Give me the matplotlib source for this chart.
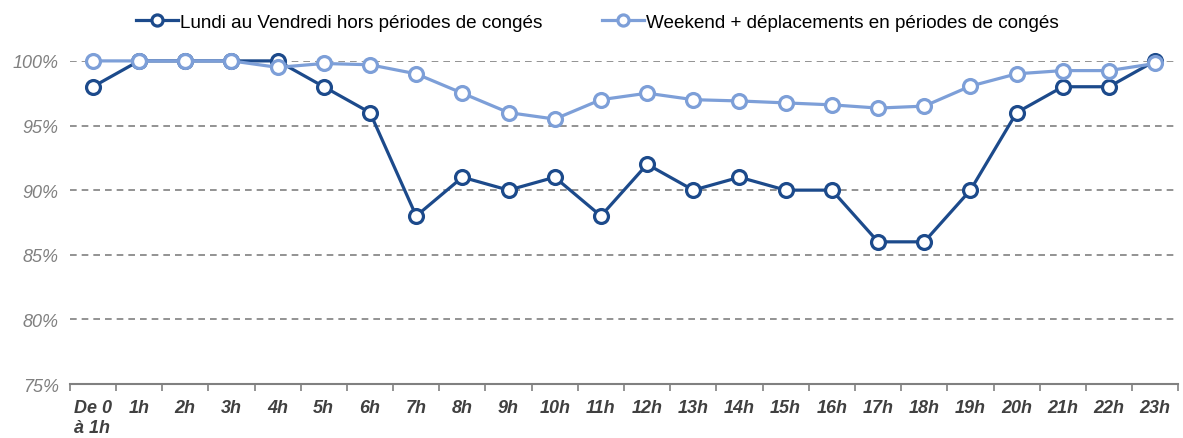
import matplotlib
matplotlib.use("Agg")
import matplotlib.pyplot as plt
from matplotlib.ticker import FixedLocator

plt.rcParams['font.family'] = ['Liberation Sans', 'DejaVu Sans']

hours = ["De 0\nà 1h"] + ["{}h".format(h) for h in range(1, 24)]
semaine = [98, 100, 100, 100, 100, 98, 96, 88, 91, 90, 91, 88, 92, 90,
           91, 90, 90, 86, 86, 90, 96, 98, 98, 100]
weekend = [100, 100, 100, 100, 99.5, 99.8, 99.7, 99.0, 97.5, 96.0, 95.5, 97.0,
           97.5, 97.0, 96.9, 96.75, 96.6, 96.35, 96.5, 98.05, 99.0, 99.25, 99.25, 99.8]
yticks = [75, 80, 85, 90, 95, 100]

dark = '#1c4a8b'
light = '#7d9fd8'

fig = plt.figure(figsize=(11.83, 4.39), dpi=100)
ax = fig.add_axes([0.059, 0.123, 0.937, 0.736])

x = range(len(hours))
ax.plot(x, semaine, color=dark, lw=2.3, marker='o', ms=10, mfc='white',
        mec=dark, mew=2.3, clip_on=False, zorder=3,
        label='Lundi au Vendredi hors périodes de congés')
ax.plot(x, weekend, color=light, lw=2.3, marker='o', ms=10, mfc='white',
        mec=light, mew=2.3, clip_on=False, zorder=4,
        label='Weekend + déplacements en périodes de congés')

ax.set_xlim(-0.5, len(hours) - 0.5)
ax.set_ylim(75, 100)
ax.set_yticks(yticks)
ax.set_yticklabels(["{}%".format(v) for v in yticks], fontsize=13,
                   style='italic', color='#808080')
ax.set_xticks(list(x))
ax.set_xticklabels(hours, fontsize=13, style='italic', weight='bold',
                   color='#404040', ha='center', multialignment='left')
ax.xaxis.set_minor_locator(FixedLocator([i - 0.5 for i in range(len(hours) + 1)]))
ax.tick_params(axis='x', which='major', length=0, pad=11)
ax.tick_params(axis='x', which='minor', length=5, width=1.2, color='#808080')
ax.tick_params(axis='y', length=0, pad=8)

for v in yticks[1:]:
    ax.axhline(v, color='#808080', lw=1.2, ls=(0, (4, 3)), zorder=1)

for s in ['top', 'right', 'left']:
    ax.spines[s].set_visible(False)
ax.spines['bottom'].set_color('#808080')
ax.spines['bottom'].set_linewidth(1.5)

fig.legend(loc='upper center', bbox_to_anchor=(0.505, 1.005), ncol=2,
           frameon=False, fontsize=13.6, handlelength=2.2, handletextpad=0.1,
           columnspacing=3.2, markerscale=0.8)

fig.savefig('out.png', dpi=100)
